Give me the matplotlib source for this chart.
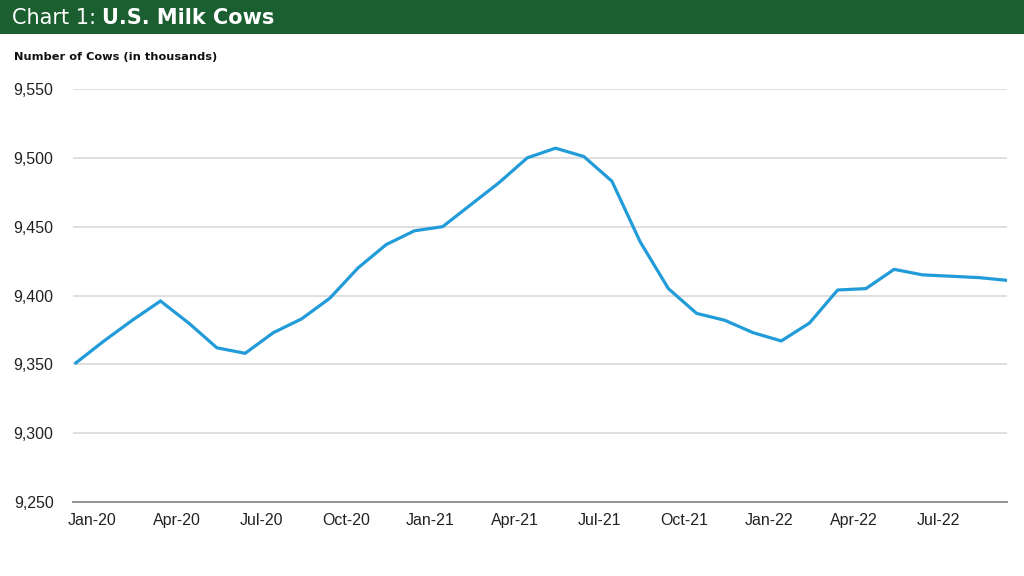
import matplotlib
matplotlib.use("Agg")
import matplotlib.pyplot as plt
from matplotlib.patches import Rectangle

# ---- data ----
months = ["Jan-20", "Feb-20", "Mar-20", "Apr-20", "May-20", "Jun-20", "Jul-20", "Aug-20",
          "Sep-20", "Oct-20", "Nov-20", "Dec-20", "Jan-21", "Feb-21", "Mar-21", "Apr-21",
          "May-21", "Jun-21", "Jul-21", "Aug-21", "Sep-21", "Oct-21", "Nov-21", "Dec-21",
          "Jan-22", "Feb-22", "Mar-22", "Apr-22", "May-22", "Jun-22", "Jul-22", "Aug-22",
          "Sep-22", "Oct-22"]
cows = [9351, 9367, 9382, 9396, 9380, 9362, 9358, 9373,
        9383, 9398, 9420, 9437, 9447, 9450, 9466, 9482,
        9500, 9507, 9501, 9483, 9439, 9405, 9387, 9382,
        9373, 9367, 9380, 9404, 9405, 9419, 9415, 9414,
        9413, 9411]
yticks = [9250, 9300, 9350, 9400, 9450, 9500, 9550]
xtick_labels = ["Jan-20", "Apr-20", "Jul-20", "Oct-20", "Jan-21", "Apr-21", "Jul-21",
                "Oct-21", "Jan-22", "Apr-22", "Jul-22"]

W, H = 1024, 576
fig = plt.figure(figsize=(W / 100, H / 100), dpi=100)
fig.patch.set_facecolor("white")

# header band
band_h = 34 / H
fig.patches.append(Rectangle((0, 1 - band_h), 1, band_h, transform=fig.transFigure,
                             facecolor="#1b5e30", edgecolor="none", zorder=0))
t1 = fig.text(12 / W, 1 - 18 / H, "Chart 1:", color="white", fontsize=15,
              family="DejaVu Sans", va="center", ha="left")
fig.canvas.draw()
bb = t1.get_window_extent(renderer=fig.canvas.get_renderer())
fig.text((bb.x1 + 6) / W, 1 - 18 / H, "U.S. Milk Cows", color="white", fontsize=15,
         family="DejaVu Sans", fontweight="bold", va="center", ha="left")

fig.text(14 / W, 1 - 57 / H, "Number of Cows (in thousands)", color="#111111",
         fontsize=8.2, family="DejaVu Sans", fontweight="bold", va="center", ha="left")

ax = fig.add_axes([73 / W, 1 - 502 / H, (1007 - 73) / W, (502 - 89) / H])
x = list(range(len(months)))
ax.plot(x, cows, color="#219cd8", lw=2.3, solid_joinstyle="miter", zorder=3)

ax.set_ylim(9250, 9550)
ax.set_xlim(-0.1, len(months) - 1)
ax.set_yticks(yticks)
ax.set_yticklabels([f"{v:,}" for v in yticks], family="Liberation Sans", fontsize=11.5,
                   color="#222222")
tick_pos = [months.index(m) + 0.57 for m in xtick_labels]
ax.set_xticks(tick_pos)
ax.set_xticklabels(xtick_labels, family="Liberation Sans", fontsize=11.5, color="#222222")
ax.tick_params(axis="both", length=0)
ax.tick_params(axis="y", pad=14)
ax.tick_params(axis="x", pad=8)
for s in ["top", "right", "left"]:
    ax.spines[s].set_visible(False)
ax.spines["bottom"].set_color("#8a8a8a")
ax.spines["bottom"].set_linewidth(1.3)
ax.grid(axis="y", color="#d9d9d9", lw=1.2)
ax.set_axisbelow(True)

fig.savefig("out.png", dpi=100)
